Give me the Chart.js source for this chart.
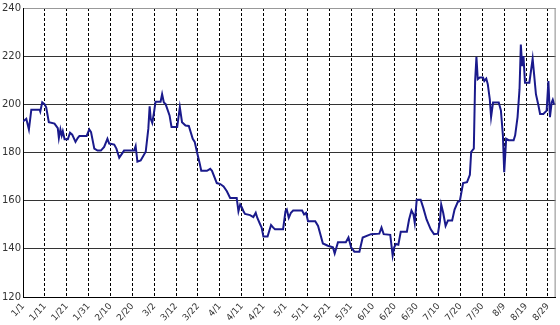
<!DOCTYPE html>
<html>
<head>
<meta charset="utf-8">
<script src="https://cdn.jsdelivr.net/npm/chart.js@4/dist/chart.umd.min.js"></script>
<style>
  html, body { margin: 0; padding: 0; background: #fff; }
</style>
</head>
<body>
<canvas id="priceChart" width="560" height="325"></canvas>
<script>
// tick labels, one every 10 days starting 1/1
const tickLabels = ['1/1','1/11','1/21','1/31','2/10','2/20','3/2','3/12','3/22','4/1','4/11','4/21',
  '5/1','5/11','5/21','5/31','6/10','6/20','6/30','7/10','7/20','7/30','8/9','8/19','8/29'];

// day offset from 1/1 for each vertex of the line
const days = [0,1.5,2.7,3.8,7.6,7.9,8.8,9.9,10.6,11.8,14.4,15.9,16.4,17.1,17.7,18.2,19,20.5,21.5,22.5,
  24,25,25.8,29.1,30.3,31.1,32.6,34.1,35.6,37.1,38.6,39.4,41.7,42.7,44,46.2,50.8,51.5,52.3,53.8,
  56.1,57.3,57.9,58.4,59.1,59.9,60.6,62.9,63.6,64.4,65.2,67,67.9,70.5,71.7,72.7,74.3,75.8,
  77.6,78.5,79.5,80.6,81.5,84.1,85.6,86.4,88.6,90.2,91.7,93.2,94.7,97.7,98.5,99.3,100,100.8,101.5,103.8,
  105.3,106.4,107.1,108.4,109.1,109.9,111.8,113.4,114.4,115.2,118.9,120,120.6,121.5,122.5,123.5,127.6,128.5,
  129.4,130.3,133.6,134.9,137.1,139.4,141.7,142.5,144,147.6,148.8,150,151.5,153.8,155.3,159.1,162.9,163.9,
  164.9,167.9,169,169.7,170.5,171.6,172.7,175.5,176.5,177.6,178.5,179.1,180,181.8,183,184.5,186.4,187.9,
  189.7,190.6,191.2,192.1,193.2,194.3,196.2,197.3,198.8,199.7,201.2,203,204.3,204.9,206.1,206.7,207.3,207.9,
  208.8,210.3,210.9,211.8,212.5,213.4,214,214.9,217.5,218.5,219.4,220,220.9,222,224.3,225,226.1,227,
  227.6,228.2,228.8,229.5,231.5,233,233.6,234.5,235.6,236.4,237.9,239.4,240.2,240.9,241.7,242.2,242.8,243.5];

const prices = [192.9,194,189.6,197.8,197.8,197,200.8,200,198.8,192.6,192,190.1,186,189.6,187.1,188.8,185.5,185.5,188.2,187.4,
  184.4,186,186.9,186.9,189.6,188.5,181.6,180.8,180.8,182.3,185.7,183.7,183.3,181.6,177.8,180.8,180.8,182.7,176.2,176.7,
  180.3,189.9,199.2,194,192.3,196.7,201.1,201.1,204.2,200.8,200.1,195.4,190.6,190.6,198.8,192.6,191.2,191,
  185.7,184.4,180.3,176.2,172.4,172.4,173.2,172.4,167.3,166.9,165.9,163.9,161.1,161.1,155.6,158.4,157.3,155.6,154.5,154,
  153.2,155,152.9,150.2,148.8,145.1,145.1,149.9,148.8,148.1,148.1,155.6,156.3,152.9,155,155.9,155.9,154.3,
  155,151.5,151.5,149.5,142.2,141.3,140.6,138.1,142.7,142.7,144.7,140.6,138.8,138.8,144.7,146.1,146.3,148.8,
  146.1,145.8,137.2,140.6,142,141.7,147.1,147.1,152.2,155.9,154.3,150.8,160.4,160.4,157,152.2,148.1,146.1,
  146.3,151.5,158.4,155,149.5,151.8,151.8,156.3,159.5,159.8,167.3,167.7,170.7,180.3,181.6,209.7,219.7,210.4,
  211.1,211.1,209.7,210.7,208.3,202.2,194.7,200.8,200.8,197.4,187.1,171.8,185.7,185.1,185.1,187.1,194.7,206.3,
  224.8,215.9,220,209,209,218.9,213.1,204.2,199.7,196,196,197.4,209.7,194.7,200.8,201.9,200.1,200.1];

// right frame line
const frame = {
  id: 'frame',
  afterDraw(chart) {
    const { ctx, chartArea: a } = chart;
    ctx.save();
    ctx.strokeStyle = '#888';
    ctx.lineWidth = 1;
    ctx.beginPath();
    ctx.moveTo(a.right - 0.5, a.top);
    ctx.lineTo(a.right - 0.5, a.bottom);
    ctx.stroke();
    ctx.restore();
  }
};

new Chart(document.getElementById('priceChart'), {
  type: 'line',
  data: {
    datasets: [{
      data: days.map((d, i) => ({ x: d, y: prices[i] })),
      borderColor: '#1a1a8c',
      borderWidth: 2,
      pointRadius: 0,
      tension: 0,
      fill: false
    }]
  },
  options: {
    responsive: false,
    devicePixelRatio: 1,
    animation: false,
    layout: { padding: { top: 5, right: 1, left: 0, bottom: 0 } },
    plugins: { legend: { display: false }, tooltip: { enabled: false } },
    scales: {
      x: {
        type: 'linear',
        min: 0,
        max: 243.5,
        afterFit: s => { s.height = 28; },
        grid: { color: '#000', lineWidth: 1, drawTicks: false },
        border: { color: '#000', dash: [3, 2] },
        ticks: {
          stepSize: 10,
          includeBounds: false,
          autoSkip: false,
          minRotation: 48,
          maxRotation: 48,
          padding: 4,
          color: '#333',
          font: { family: 'DejaVu Sans', size: 9 },
          callback: v => tickLabels[Math.round(v / 10)]
        }
      },
      y: {
        min: 120,
        max: 240,
        afterFit: s => { s.width = 23; },
        grid: {
          drawTicks: false,
          lineWidth: 1,
          color: c => c.tick && c.tick.value === 240 ? '#999' : '#333'
        },
        border: { color: '#000' },
        ticks: {
          stepSize: 20,
          padding: 2,
          color: '#333',
          font: { family: 'DejaVu Sans', size: 10 }
        }
      }
    }
  },
  plugins: [frame]
});
</script>
</body>
</html>
